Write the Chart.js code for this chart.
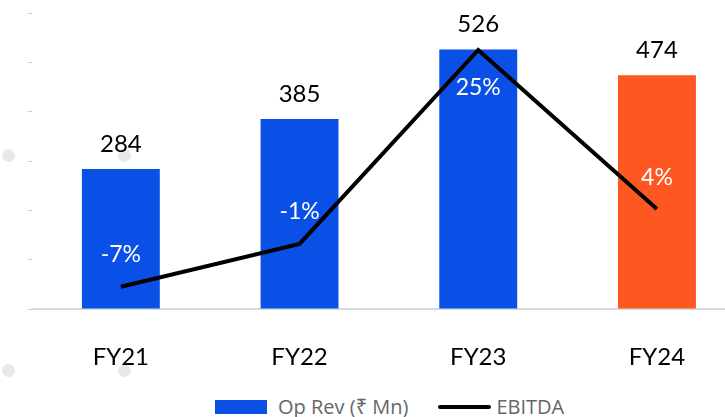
<!DOCTYPE html>
<html>
<head>
<meta charset="utf-8">
<script src="https://cdn.jsdelivr.net/npm/chart.js@4"></script>
<style>
  html, body { margin: 0; padding: 0; background: #fff; }
  #wrap { position: relative; width: 725px; height: 417px; overflow: hidden; }
  #box { position: absolute; left: 0; top: 0; width: 790px; height: 380px; z-index: 1; }
  .dot { position: absolute; width: 13px; height: 13px; border-radius: 50%; background: #e8e8e8; z-index: 0; }
  #legend { position: absolute; left: 215px; top: 393px; display: flex; align-items: center;
    font-family: "Open Sans", "Noto Sans", "DejaVu Sans", sans-serif; font-size: 20px; color: #666; }
  #legend .sw { display: inline-block; width: 52px; height: 14px; background: #0a50e6; margin-right: 11px; }
  #legend .ln { display: inline-block; width: 53px; height: 4px; background: #000; margin: 0 5px 0 30px; border-radius: 2px; }
</style>
</head>
<body>
<div id="wrap">
  <div class="dot" style="left:2px;top:149px"></div>
  <div class="dot" style="left:118px;top:149px"></div>
  <div class="dot" style="left:2px;top:364px"></div>
  <div class="dot" style="left:118px;top:364px"></div>
  <div id="box"><canvas id="chart"></canvas></div>
  <div id="legend"><span class="sw"></span><span>Op Rev (₹ Mn)</span><span class="ln"></span><span>EBITDA</span></div>
</div>
<script>
const years = ['FY21', 'FY22', 'FY23', 'FY24'];
const opRev = [284, 385, 526, 474];
const ebitda = [-7, -1.2, 25, 3.5];
const barColors = ['#0a50e6', '#0a50e6', '#0a50e6', '#ff5722'];

const labelFont = '"Lato", "Liberation Sans", sans-serif';

const valueLabels = {
  id: 'valueLabels',
  afterDatasetsDraw(chart) {
    const ctx = chart.ctx;
    ctx.save();
    ctx.textAlign = 'center';
    ctx.textBaseline = 'middle';
    // bar totals
    ctx.fillStyle = '#000';
    ctx.font = '24px ' + labelFont;
    chart.getDatasetMeta(0).data.forEach((bar, i) => {
      ctx.fillText(opRev[i], bar.x, bar.y - 25);
    });
    // ebitda margins inside the bars
    ctx.fillStyle = '#fff';
    ctx.font = '23px ' + labelFont;
    const top = Math.max(...ebitda);
    chart.getDatasetMeta(1).data.forEach((pt, i) => {
      const dy = ebitda[i] === top ? 38 : -32;
      ctx.fillText(Math.round(ebitda[i]) + '%', pt.x, pt.y + dy);
    });
    ctx.restore();
  }
};

new Chart(document.getElementById('chart'), {
  type: 'bar',
  data: {
    labels: years,
    datasets: [
      {
        label: 'Op Rev (₹ Mn)',
        data: opRev,
        backgroundColor: barColors,
        categoryPercentage: 1,
        barPercentage: 0.436,
        yAxisID: 'y',
        order: 2
      },
      {
        type: 'line',
        label: 'EBITDA',
        data: ebitda,
        borderColor: '#000',
        borderWidth: 4,
        pointRadius: 0,
        tension: 0,
        yAxisID: 'y1',
        order: 1
      }
    ]
  },
  options: {
    responsive: true,
    maintainAspectRatio: false,
    animation: false,
    layout: { padding: { left: 27.5, right: 43.7, top: 13, bottom: 0 } },
    plugins: { legend: { display: false }, tooltip: { enabled: false } },
    scales: {
      x: {
        grid: { display: false },
        border: { display: true, color: '#d9d9d9', width: 2 },
        ticks: { color: '#000', font: { family: labelFont, size: 24 }, padding: 26 },
        afterFit: s => { s.height = 71; }
      },
      y: {
        min: 0,
        max: 600,
        ticks: { display: false, stepSize: 100 },
        grid: { drawOnChartArea: false, tickLength: 4, color: '#cfcfcf' },
        border: { display: false }
      },
      y1: {
        display: false,
        min: -10,
        max: 30
      }
    }
  },
  plugins: [valueLabels]
});
</script>
</body>
</html>
